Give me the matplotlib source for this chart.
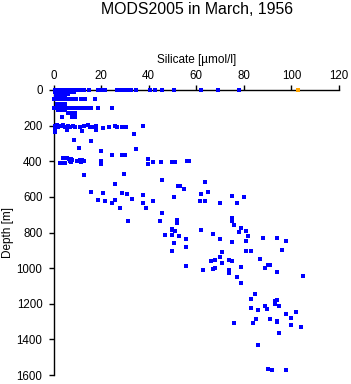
import numpy as np
import matplotlib
matplotlib.use("Agg")
import matplotlib.pyplot as plt

plt.rcParams['font.family'] = ['Liberation Sans', 'DejaVu Sans']

# surface samples (depth 0 m)
si_surf = [0.5, 1, 1.5, 2, 2.5, 3, 3.5, 4, 4.5, 5, 5.5, 6, 6.5, 7, 7.5, 8, 8.5, 9, 9.5, 10,
           11, 12, 13, 14.8, 18.7, 20.5, 21.5, 26.7, 27.5, 28.5, 29.5, 30.5, 31.5, 32.4,
           34.5, 40.6, 42.7, 45.5, 50.7, 62, 69, 77.9]

# shallow layer (0-250 m)
si_shallow = [0.5, 1.5, 2.5, 3.5, 4.5, 5.5, 6.5, 7.5, 8.5,
              1, 2, 3, 4, 5, 6,
              1, 2, 3, 4, 5,
              0.3, 1, 2, 3, 4, 5, 6, 7, 8.5, 9.4, 11.7, 13.4, 17.6,
              1.4, 2.5, 3.5, 4.9,
              0.3, 1, 2, 3, 4, 5, 6, 7, 8, 9, 10.6, 11.5, 12.5, 13.5, 14.8, 15.9, 18.7, 24.7,
              2.1, 3.5, 4.9,
              6.3, 7.5, 9.2,
              3.5, 7.8, 9.2,
              0.5, 1, 1.5, 2, 3, 4, 5, 6, 7, 8, 9.2, 11.3, 12.7, 14.5, 15.5, 16.2, 17.9,
              20.7, 23.5, 26, 26.8, 28.9, 30.3, 37.7,
              0.5, 0.7, 5.6, 12, 18, 33.8]
dep_shallow = [10, 10, 10, 10, 10, 10, 10, 10, 10,
               20, 20, 20, 20, 20, 20,
               32, 32, 32, 32, 32,
               50, 50, 50, 50, 50, 50, 50, 50, 50, 50, 50, 50, 50,
               77, 77, 77, 77,
               101, 101, 101, 101, 101, 101, 101, 101, 101, 101, 101, 101, 101, 101, 101, 101, 101, 101,
               114, 114, 114,
               129, 129, 129,
               152, 152, 152,
               200, 210, 195, 205, 200, 198, 205, 200, 210, 200, 205, 205, 200, 198, 210, 205, 200,
               215, 210, 203, 205, 207, 205, 203,
               225, 235, 223, 232, 223, 249]

# intermediate and deep samples
si_deep = [8.7, 15.8, 10.8, 34.8, 20, 24.7, 28.9, 30,
           4.2, 5.5, 6.5, 7.2, 7.7, 7, 7.5, 2.8, 4, 4.9, 9.9, 11.3, 12, 12.7, 11.5, 20,
           39.9, 42, 45.1, 50, 51.1, 20, 39.9, 56, 56.9,
           13, 29.7, 45.8, 25.9, 52.5, 63.8, 53, 54.9,
           15.8, 20.8, 28.9, 31, 37.7, 50.8, 18.7, 25.8, 32.8, 21.8, 42, 24.7, 37.7,
           27.8, 39, 45.8,
           61.8, 64.8, 74.9, 80, 61.5, 63.7, 69.9, 77,
           31.5, 44.9, 51.8, 51.8, 51.8, 74.9, 74.9, 76, 78.9, 49.7,
           50, 51.1, 61.9, 81, 77.8, 66.9, 46.7, 50, 52.8, 81.9, 88, 93.9, 55.9, 70,
           81, 97.8, 74.9, 50.8, 55.9, 96, 50, 81, 83, 70.8, 69.8, 87, 67.8, 73.9,
           66, 75, 71, 90.1, 91.1, 55.9, 79, 68, 88.8, 67, 63, 73.9, 93.9, 73.9,
           104.9, 77, 79, 84.9, 82.9, 93.9, 93, 93, 88.8, 94.9, 82.9, 89.8, 85.9,
           101.9, 97.8, 99.8, 85, 91, 93.9, 93.9, 75.9, 83.9, 99.8, 104, 94.9, 85.9,
           90, 91.8, 97.8]
dep_deep = [279, 288, 326, 331, 345, 363, 363, 365,
            382, 382, 385, 390, 395, 400, 405, 410, 408, 412, 398, 395, 395, 398, 402, 400,
            388, 404, 404, 403, 406, 416, 416, 400, 398,
            476, 472, 507, 528, 541, 517, 539, 556,
            573, 578, 580, 583, 592, 603, 616, 616, 612, 625, 625, 635, 635,
            663, 663, 691,
            584, 575, 595, 601, 621, 621, 635, 635,
            738, 738, 728, 738, 747, 719, 734, 760, 775, 778,
            785, 790, 785, 790, 799, 809, 814, 814, 822, 822, 829, 829, 837, 837,
            846, 846, 854, 859, 882, 899, 904, 904, 904, 910, 940, 949, 955, 955,
            962, 962, 972, 981, 981, 988, 994, 999, 999, 1005, 1013, 1013, 1024, 1028,
            1046, 1050, 1084, 1144, 1174, 1179, 1187, 1200, 1213, 1213, 1224, 1230, 1236,
            1247, 1258, 1280, 1286, 1286, 1297, 1303, 1308, 1308, 1322, 1331, 1365, 1434,
            1567, 1572, 1572]

# flagged sample
si_flag = [102.8]
dep_flag = [0]

silicate = si_surf + si_shallow + si_deep
depth = [0] * len(si_surf) + dep_shallow + dep_deep

fig = plt.figure(figsize=(3.51, 3.84), dpi=100)
ax = fig.add_axes([53.5 / 351, 9 / 384, 285.5 / 351, 285 / 384])

ax.plot(silicate, depth, 's', color='#0000ff', ms=2.5, mew=0, clip_on=False, zorder=3)
ax.plot(si_flag, dep_flag, 's', color='#ffa500', ms=2.5, mew=0, clip_on=False, zorder=3)

ax.set_xlim(0, 120)
ax.set_ylim(1600, 0)
ax.set_xticks(np.arange(0, 121, 20))
ax.set_yticks(np.arange(0, 1601, 200))

ax.spines['right'].set_visible(False)
ax.spines['bottom'].set_visible(False)
for s in ('top', 'left'):
    ax.spines[s].set_linewidth(1.0)

ax.xaxis.tick_top()
ax.xaxis.set_label_position('top')
ax.tick_params(axis='both', direction='out', length=3.6, width=1.0, labelsize=8.3)
ax.tick_params(axis='x', pad=2.5)
ax.tick_params(axis='y', pad=4.3)

ax.set_xlabel('Silicate [µmol/l]', fontsize=8.5, labelpad=5)
ax.set_ylabel('Depth [m]', fontsize=8.5)
ax.yaxis.set_label_coords(-0.14, 0.5)

fig.text(197 / 351, 1 - 9 / 384, 'MODS2005 in March, 1956', ha='center', va='center', fontsize=11.4)

fig.savefig('out.png', dpi=100)
